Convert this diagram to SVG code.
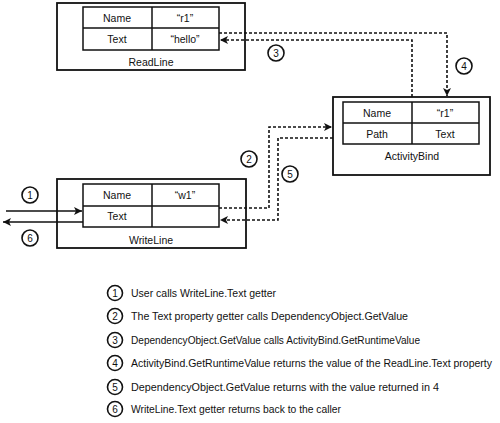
<svg xmlns="http://www.w3.org/2000/svg" width="500" height="423" viewBox="0 0 500 423">
<style>
text{font-family:"Liberation Sans",Arial,sans-serif;font-size:10.5px;fill:#111;text-anchor:middle}
.box{fill:#fff;stroke:#111;stroke-width:1.8}
.tbl{fill:#fff;stroke:#111;stroke-width:1.5}
.ln{fill:none;stroke:#111;stroke-width:1.5}
.dash{fill:none;stroke:#111;stroke-width:1.6;stroke-dasharray:3 2}
.circ{fill:#fff;stroke:#111;stroke-width:1.6}
.num{font-size:10px}
.leg{text-anchor:start}
</style>
<defs>
<marker id="ah" markerUnits="userSpaceOnUse" markerWidth="9" markerHeight="8" refX="8" refY="4" orient="auto">
<path d="M0,0 L8,4 L0,8 L2,4 Z" fill="#111"/>
</marker>
</defs>

<g id="readline">
<rect class="box" x="57" y="3" width="188" height="67"/>
<rect class="tbl" x="83" y="7" width="136" height="43"/>
<line class="tbl" x1="152" y1="7" x2="152" y2="50"/>
<line class="tbl" x1="83" y1="28" x2="219" y2="28"/>
<text x="117" y="21.5">Name</text>
<text x="185" y="21.5">“r1”</text>
<text x="117" y="42.5">Text</text>
<text x="185" y="42.5">“hello”</text>
<text x="151" y="65.5">ReadLine</text>
</g>

<g id="activitybind">
<rect class="box" x="333" y="97" width="157" height="78"/>
<rect class="tbl" x="343" y="102" width="136" height="42"/>
<line class="tbl" x1="412" y1="102" x2="412" y2="144"/>
<line class="tbl" x1="343" y1="123" x2="479" y2="123"/>
<text x="377" y="116.5">Name</text>
<text x="445" y="116.5">“r1”</text>
<text x="377" y="137.5">Path</text>
<text x="445" y="137.5">Text</text>
<text x="412" y="160">ActivityBind</text>
</g>

<g id="writeline">
<rect class="box" x="57" y="179" width="189" height="69"/>
<rect class="tbl" x="83" y="184" width="136" height="43"/>
<line class="tbl" x1="152" y1="184" x2="152" y2="227"/>
<line class="tbl" x1="83" y1="206" x2="219" y2="206"/>
<text x="117" y="199">Name</text>
<text x="185" y="199">“w1”</text>
<text x="117" y="220">Text</text>
<text x="151" y="243.5">WriteLine</text>
</g>

<g id="connectors">
<line class="ln" x1="6" y1="211" x2="82" y2="211" marker-end="url(#ah)"/>
<line class="ln" x1="83" y1="222" x2="3" y2="222" marker-end="url(#ah)"/>
<polyline class="dash" points="219,208 269,208 269,127 332,127" marker-end="url(#ah)"/>
<polyline class="dash" points="333,138 278,138 278,220 220,220" marker-end="url(#ah)"/>
<polyline class="dash" points="219,33 447,33 447,96" marker-end="url(#ah)"/>
<polyline class="dash" points="412,97 412,40 220,40" marker-end="url(#ah)"/>
</g>

<g id="callouts">
<circle class="circ" cx="30" cy="195" r="8"/><text class="num" x="30" y="198.5">1</text>
<circle class="circ" cx="30" cy="238" r="8"/><text class="num" x="30" y="241.5">6</text>
<circle class="circ" cx="249" cy="159" r="8"/><text class="num" x="249" y="162.5">2</text>
<circle class="circ" cx="290" cy="174" r="8"/><text class="num" x="290" y="177.5">5</text>
<circle class="circ" cx="276" cy="53" r="8"/><text class="num" x="276" y="56.5">3</text>
<circle class="circ" cx="464" cy="66" r="8"/><text class="num" x="464" y="69.5">4</text>
</g>

<g id="legend">
<circle class="circ" cx="115" cy="293" r="7.5"/><text class="num" x="115" y="296.5">1</text>
<text class="leg" x="131" y="297">User calls WriteLine.Text getter</text>
<circle class="circ" cx="115" cy="316" r="7.5"/><text class="num" x="115" y="319.5">2</text>
<text class="leg" x="131" y="320" textLength="277" lengthAdjust="spacingAndGlyphs">The Text property getter calls DependencyObject.GetValue</text>
<circle class="circ" cx="115" cy="340" r="7.5"/><text class="num" x="115" y="343.5">3</text>
<text class="leg" x="131" y="344" textLength="289" lengthAdjust="spacingAndGlyphs">DependencyObject.GetValue calls ActivityBind.GetRuntimeValue</text>
<circle class="circ" cx="115" cy="363" r="7.5"/><text class="num" x="115" y="366.5">4</text>
<text class="leg" x="131" y="367" textLength="361" lengthAdjust="spacingAndGlyphs">ActivityBind.GetRuntimeValue returns the value of the ReadLine.Text property</text>
<circle class="circ" cx="115" cy="387" r="7.5"/><text class="num" x="115" y="390.5">5</text>
<text class="leg" x="131" y="391" textLength="308" lengthAdjust="spacingAndGlyphs">DependencyObject.GetValue returns with the value returned in 4</text>
<circle class="circ" cx="115" cy="409" r="7.5"/><text class="num" x="115" y="412.5">6</text>
<text class="leg" x="131" y="413" textLength="210" lengthAdjust="spacingAndGlyphs">WriteLine.Text getter returns back to the caller</text>
</g>
</svg>
